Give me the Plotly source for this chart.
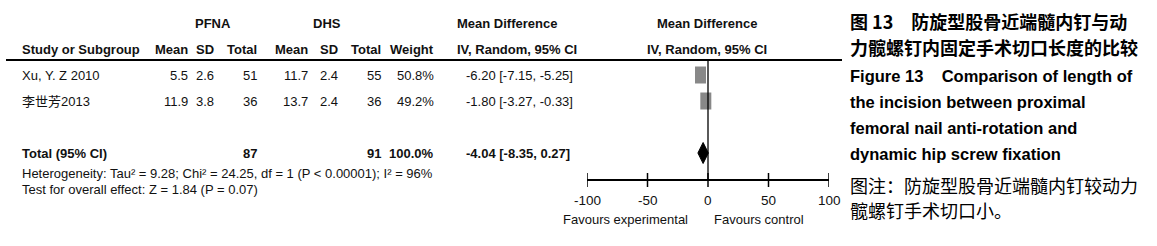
import plotly.graph_objects as go

W, H = 1157, 246

# ---- data ----
studies = ["Xu, Y. Z 2010", "李世芳2013"]
pfna_mean = [5.5, 11.9]
pfna_sd = [2.6, 3.8]
pfna_total = [51, 36]
dhs_mean = [11.7, 13.7]
dhs_sd = [2.4, 2.4]
dhs_total = [55, 36]
weights = [50.8, 49.2]
md = [-6.20, -1.80]
ci_low = [-7.15, -3.27]
ci_high = [-5.25, -0.33]

total_label = "Total (95% CI)"
total_pfna = 87
total_dhs = 91
total_weight = 100.0
total_md = -4.04
total_low = -8.35
total_high = 0.27

heterogeneity = "Heterogeneity: Tau² = 9.28; Chi² = 24.25, df = 1 (P < 0.00001); I² = 96%"
overall = "Test for overall effect: Z = 1.84 (P = 0.07)"

tick_vals = [-100, -50, 0, 50, 100]
favours = ["Favours experimental", "Favours control"]

caption_cn_bold = ["图 13\u3000防旋型股骨近端髓内钉与动", "力髋螺钉内固定手术切口长度的比较"]
caption_en = ["Figure 13\u00a0\u00a0\u00a0 Comparison of length of",
              "the incision between proximal",
              "femoral nail anti-rotation and",
              "dynamic hip screw fixation"]
caption_note = ["图注：防旋型股骨近端髓内钉较动力", "髋螺钉手术切口小。"]

# ---- layout constants (pixels) ----
FONT = "Liberation Sans Narrow, Arial Narrow, Liberation Sans, Arial, sans-serif"
CJK = "Noto Sans CJK SC, sans-serif"
row_y = [75, 101]
total_y = 153
het_y = 173
test_y = 189
head1_y = 23
head2_y = 49
line_y = 60
axis_y = 180
plot_x0, plot_x1 = 587, 829
# right edges of the table columns
col_x = [190, 216, 259, 310, 340, 383, 436]


def px(x):
    return x / W


fig = go.Figure()
ann = []


def txt(x, y, s, anchor="left", bold=False, size=13, family=FONT, color="#111"):
    ann.append(dict(x=px(x), y=y, xref="paper", yref="y", text=s, showarrow=False,
                    xanchor=anchor, yanchor="middle",
                    font=dict(family=family, size=size, color=color,
                              weight="bold" if bold else "normal")))


# headers
txt(213, head1_y, "PFNA", "center", True)
txt(327, head1_y, "DHS", "center", True)
txt(455, head1_y, "Mean Difference", "left", True)
txt(707, head1_y, "Mean Difference", "center", True)
txt(20, head2_y, "Study or Subgroup", "left", True)
for x, s in zip(col_x, ["Mean", "SD", "Total", "Mean", "SD", "Total", "Weight"]):
    txt(x, head2_y, s, "right", True)
txt(455, head2_y, "IV, Random, 95% CI", "left", True)
txt(707, head2_y, "IV, Random, 95% CI", "center", True)

# study rows
for i, name in enumerate(studies):
    y = row_y[i]
    txt(20, y, name, family=FONT + ", " + CJK)
    vals = [f"{pfna_mean[i]}", f"{pfna_sd[i]}", f"{pfna_total[i]}",
            f"{dhs_mean[i]}", f"{dhs_sd[i]}", f"{dhs_total[i]}", f"{weights[i]:.1f}%"]
    for x, s in zip(col_x, vals):
        txt(x, y, s, "right")
    txt(575, y, f"{md[i]:.2f} [{ci_low[i]:.2f}, {ci_high[i]:.2f}]", "right")

# total rows
txt(20, total_y, total_label, bold=True)
txt(col_x[2], total_y, f"{total_pfna}", "right", True)
txt(col_x[5], total_y, f"{total_dhs}", "right", True)
txt(col_x[6], total_y, f"{total_weight:.1f}%", "right", True)
txt(572, total_y, f"{total_md:.2f} [{total_low:.2f}, {total_high:.2f}]", "right", True)
txt(20, het_y, heterogeneity, size=13)
txt(20, test_y, overall, size=13)

# favours labels
txt(690, 219, favours[0], "right")
txt(712, 219, favours[1], "left")

# caption
cy = [21, 47, 76, 102, 128, 154, 185, 210]
txt(848, cy[0], caption_cn_bold[0], bold=True, size=18, family=CJK, color="#000")
txt(848, cy[1], caption_cn_bold[1], bold=True, size=18, family=CJK, color="#000")
for k, s in enumerate(caption_en):
    txt(848, cy[2 + k], s, bold=True, size=16.5, family="Liberation Sans, Arial", color="#000")
txt(848, cy[6], caption_note[0], size=18, family=CJK, color="#000")
txt(848, cy[7], caption_note[1], size=18, family=CJK, color="#000")

# tick labels
for t in tick_vals:
    ann.append(dict(x=t, y=200, xref="x2", yref="y", text=str(t), showarrow=False,
                    xanchor="center", yanchor="middle",
                    font=dict(family=FONT, size=13.5, color="#111")))

# study boxes + CIs
for i in range(len(studies)):
    y = row_y[i]
    fig.add_trace(go.Scatter(x=[ci_low[i], ci_high[i]], y=[y, y], mode="lines",
                             line=dict(color="#000", width=1), xaxis="x2", yaxis="y",
                             showlegend=False, hoverinfo="skip"))
    fig.add_trace(go.Scatter(x=[md[i], md[i]], y=[y - 8.5, y + 8.5], mode="lines",
                             line=dict(color="#888888", width=11), xaxis="x2", yaxis="y",
                             showlegend=False, hoverinfo="skip"))

# pooled diamond
fig.add_trace(go.Scatter(x=[total_low, total_md, total_high, total_md, total_low],
                         y=[total_y, total_y - 10.5, total_y, total_y + 10.5, total_y],
                         mode="lines", fill="toself", fillcolor="#000",
                         line=dict(color="#000", width=1), xaxis="x2", yaxis="y",
                         showlegend=False, hoverinfo="skip"))

shapes = [
    dict(type="line", xref="paper", yref="y", x0=px(6), x1=px(842), y0=line_y, y1=line_y,
         line=dict(color="#000", width=2)),
    dict(type="line", xref="x2", yref="y", x0=0, x1=0, y0=line_y, y1=axis_y,
         line=dict(color="#000", width=1.3)),
    dict(type="line", xref="x2", yref="y", x0=tick_vals[0], x1=tick_vals[-1], y0=axis_y, y1=axis_y,
         line=dict(color="#000", width=2)),
]
for t in tick_vals:
    shapes.append(dict(type="line", xref="x2", yref="y", x0=t, x1=t, y0=axis_y - 7, y1=axis_y + 7,
                       line=dict(color="#000", width=1.5)))

fig.update_layout(
    width=W, height=H,
    margin=dict(l=0, r=0, t=0, b=0),
    paper_bgcolor="white", plot_bgcolor="white",
    xaxis=dict(range=[0, W], domain=[0, 1], visible=False, fixedrange=True),
    xaxis2=dict(range=[tick_vals[0], tick_vals[-1]], domain=[px(plot_x0), px(plot_x1)],
                anchor="y", visible=False, fixedrange=True),
    yaxis=dict(range=[H, 0], domain=[0, 1], visible=False, fixedrange=True),
    annotations=ann,
    shapes=shapes,
    showlegend=False,
)

fig.write_html("out.html", config={"displayModeBar": False},
               post_script="document.body.style.margin='0';")
